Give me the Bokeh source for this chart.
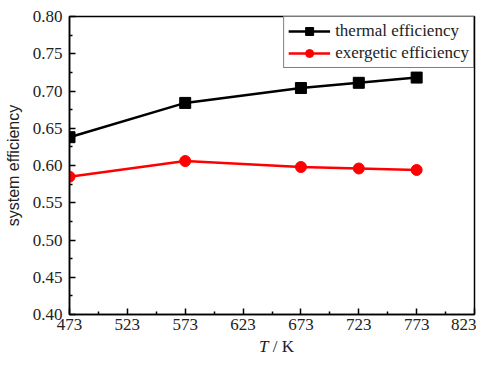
from bokeh.plotting import figure
from bokeh.layouts import column
from bokeh.models import Legend, LegendItem, FixedTicker, Range1d, PrintfTickFormatter, Div
from bokeh.embed import file_html
from bokeh.resources import INLINE

temps = [473, 573, 673, 723, 773]
thermal = [0.638, 0.684, 0.704, 0.711, 0.718]
exergetic = [0.585, 0.606, 0.598, 0.596, 0.594]
x_ticks = [473, 523, 573, 623, 673, 723, 773, 823]
x_minor = [498, 548, 598, 648, 698, 748, 798]
y_ticks = [0.40, 0.45, 0.50, 0.55, 0.60, 0.65, 0.70, 0.75, 0.80]
y_minor = [0.425, 0.475, 0.525, 0.575, 0.625, 0.675, 0.725, 0.775]

p = figure(width=476, height=334, output_backend="svg", toolbar_location=None,
           x_range=Range1d(473, 823), y_range=Range1d(0.40, 0.80),
           min_border_left=69, min_border_right=2, min_border_top=16, min_border_bottom=20)
p.grid.visible = False
p.outline_line_color = "black"
p.outline_line_width = 1.5

p.xaxis.ticker = FixedTicker(ticks=x_ticks, minor_ticks=x_minor)
p.yaxis.ticker = FixedTicker(ticks=y_ticks, minor_ticks=y_minor)
p.xaxis.formatter = PrintfTickFormatter(format="%d")
p.yaxis.formatter = PrintfTickFormatter(format="%.2f")
for ax in (p.xaxis[0], p.yaxis[0]):
    ax.major_tick_in = 6
    ax.major_tick_out = 0
    ax.minor_tick_in = 3
    ax.minor_tick_out = 0
    ax.axis_line_width = 1.5
    ax.major_tick_line_width = 1.5
    ax.minor_tick_line_width = 1.5
    ax.axis_line_color = "black"
    ax.major_tick_line_color = "black"
    ax.minor_tick_line_color = "black"
    ax.major_label_text_font = "Liberation Serif"
    ax.major_label_text_font_size = "17px"
    ax.major_label_text_color = "#222222"
p.xaxis[0].major_label_standoff = 4
p.yaxis[0].major_label_standoff = 7
p.yaxis[0].axis_label = "system efficiency"
p.yaxis[0].axis_label_text_font = "Liberation Sans"
p.yaxis[0].axis_label_text_font_style = "normal"
p.yaxis[0].axis_label_text_font_size = "16px"
p.yaxis[0].axis_label_text_color = "#222222"
p.yaxis[0].axis_label_standoff = 8

l1 = p.line(temps, thermal, line_color="black", line_width=2.5)
s1 = p.scatter(temps, thermal, marker="square", size=11, fill_color="black", line_color="black")
l2 = p.line(temps, exergetic, line_color="red", line_width=2.5)
s2 = p.scatter(temps, exergetic, marker="circle", size=11, fill_color="red", line_color="red")

legend = Legend(items=[LegendItem(label="thermal efficiency", renderers=[l1, s1]),
                       LegendItem(label="exergetic efficiency", renderers=[l2, s2])],
                location="top_right", margin=0, padding=4, spacing=2,
                label_height=20, glyph_height=20, glyph_width=42, label_standoff=5,
                border_line_color="black", border_line_width=1.5,
                label_text_font="Liberation Serif", label_text_font_size="17px",
                label_text_color="#222222")
p.add_layout(legend)

# x-axis title (italic T, upright "/ K")
x_title = Div(text='<div style="position:relative;left:254px;top:0px;margin:0;padding:0;'
                   'font-family:\'Liberation Serif\';font-size:17px;line-height:16px;'
                   'color:#222222;white-space:nowrap"><i>T</i> / K</div>',
              width=476, height=16)

layout = column(p, x_title, spacing=0)
open("out.html", "w").write(file_html(layout, INLINE))
